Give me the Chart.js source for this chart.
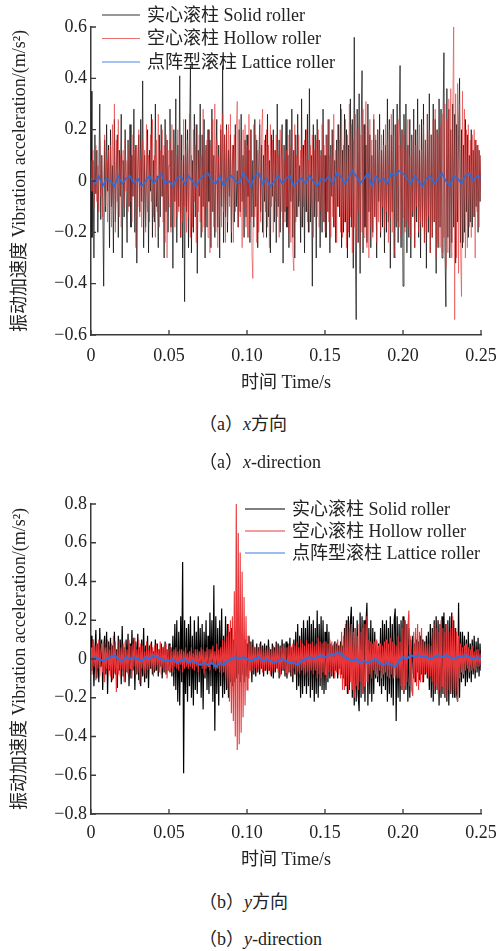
<!DOCTYPE html>
<html><head><meta charset="utf-8">
<script src="https://cdn.jsdelivr.net/npm/chart.js@4.4.1/dist/chart.umd.min.js"></script>
<style>
html,body{margin:0;padding:0;background:#fff;}
body{width:500px;height:951px;position:relative;overflow:hidden;font-family:'Liberation Serif','Noto Sans CJK SC',serif;}
canvas{position:absolute;left:0;}
.cap{position:absolute;left:199px;font-size:18px;color:#222;white-space:nowrap;line-height:20px;}
</style></head><body>
<canvas id="c1" width="500" height="400" style="top:0px"></canvas>
<canvas id="c2" width="500" height="410" style="top:470px"></canvas>
<div class="cap" style="top:414px">（a）<i>x</i>方向</div>
<div class="cap" style="top:452px">（a）<i>x</i>-direction</div>
<div class="cap" style="top:892px">（b）<i>y</i>方向</div>
<div class="cap" style="top:929px">（b）<i>y</i>-direction</div>
<script>
// ---------- DATA ----------
const SERIES_NAMES = ['实心滚柱 Solid roller', '空心滚柱 Hollow roller', '点阵型滚柱 Lattice roller'];
const X_AXIS_TITLE = '时间 Time/s';
const Y_AXIS_TITLE = '振动加速度 Vibration acceleration/(m/s²)';
const X_TICK_LABELS = ['0', '0.05', '0.10', '0.15', '0.20', '0.25'];
const Y1_TICK_LABELS = ['−0.6', '−0.4', '−0.2', '0', '0.2', '0.4', '0.6'];
const Y2_TICK_LABELS = ['−0.8', '−0.6', '−0.4', '−0.2', '0', '0.2', '0.4', '0.6', '0.8'];
const STEP_FINE = 0.000625;  // sampling step of solid / hollow records (s)
const STEP_LATTICE = 0.0025; // sampling step of lattice record (s)

// (a) x-direction
const X_SOLID = [
 0.35,-0.22,0.08,-0.30,0.18,-0.05,0.12,-0.20,0.02,0.30,-0.15,0.10,-0.08,-0.41,0.16,-0.12,0.22,-0.04,0.14,-0.26,
 0.20,-0.10,0.06,-0.28,0.24,-0.16,0.04,0.18,-0.22,0.12,-0.06,0.26,-0.30,0.08,-0.14,0.20,-0.02,-0.24,0.16,-0.10,
 0.22,-0.18,0.10,-0.06,0.28,-0.20,0.14,-0.32,0.06,0.18,-0.12,0.24,-0.08,0.39,-0.26,0.10,-0.18,0.04,0.20,-0.28,
 0.12,-0.04,0.26,-0.22,0.08,-0.16,0.30,-0.10,0.02,-0.26,0.18,-0.14,0.22,-0.06,0.10,-0.30,0.24,-0.12,0.16,-0.20,
 0.06,0.28,-0.18,0.12,-0.34,0.20,-0.08,0.32,-0.24,0.14,-0.10,0.41,-0.22,0.18,-0.30,0.10,-0.47,0.24,-0.12,0.20,
 -0.26,0.16,0.45,-0.28,0.08,-0.20,0.26,-0.14,0.22,-0.36,0.12,-0.06,0.30,-0.22,0.18,-0.10,0.24,-0.30,0.14,-0.18,
 0.20,-0.08,0.16,-0.26,0.28,-0.12,0.10,-0.22,0.06,0.24,-0.18,0.14,-0.30,0.20,-0.10,0.45,-0.24,0.18,-0.14,0.22,
 -0.20,0.12,-0.06,0.18,-0.24,0.08,0.14,-0.16,0.22,-0.10,0.04,-0.18,0.20,-0.12,0.26,-0.08,0.10,-0.22,0.16,-0.14,
 0.18,-0.06,0.12,-0.24,0.20,-0.14,0.08,-0.18,0.24,-0.10,0.16,-0.26,0.06,0.22,-0.12,0.14,-0.20,0.10,-0.08,0.18,
 -0.22,0.26,-0.14,0.08,-0.28,0.18,-0.06,0.20,-0.16,0.12,-0.24,0.30,-0.10,0.16,-0.20,0.06,0.22,-0.32,0.14,-0.12,
 0.24,-0.18,0.10,-0.26,0.20,-0.08,0.28,-0.22,0.12,-0.30,0.18,-0.14,0.26,-0.10,0.06,-0.24,0.32,-0.18,0.14,-0.28,
 0.20,-0.12,0.26,-0.20,0.36,-0.16,0.10,-0.41,0.22,-0.14,0.18,-0.30,0.24,-0.08,0.16,-0.26,0.12,-0.20,0.28,-0.16,
 0.10,-0.22,0.18,-0.12,0.24,-0.28,0.14,-0.06,0.20,-0.18,0.08,-0.24,0.16,-0.10,0.22,-0.14,0.30,-0.26,0.12,-0.20,
 0.26,-0.16,0.20,-0.30,0.14,-0.22,0.32,-0.18,0.24,-0.34,0.56,-0.20,-0.54,0.28,-0.24,0.34,-0.36,0.18,0.43,-0.28,
 0.22,-0.18,0.14,-0.24,0.30,-0.12,0.18,-0.26,0.10,-0.20,0.24,-0.14,0.16,-0.30,0.20,-0.08,0.26,-0.22,0.12,-0.18,
 0.20,-0.28,0.14,-0.20,0.32,-0.16,0.24,-0.34,0.18,-0.12,0.28,-0.30,0.22,-0.18,0.30,-0.24,0.16,0.45,-0.26,0.20,
 -0.41,0.26,-0.18,0.30,-0.28,0.14,-0.22,0.24,-0.30,0.18,-0.14,0.28,-0.26,0.20,-0.16,0.32,-0.22,0.12,-0.30,0.24,
 -0.18,0.30,-0.24,0.16,-0.34,0.26,-0.20,0.34,-0.28,0.18,-0.22,0.30,-0.16,0.24,-0.36,0.20,-0.26,0.32,-0.18,0.28,
 -0.30,0.22,0.50,-0.26,-0.49,0.36,-0.22,0.28,-0.30,0.20,-0.24,0.30,-0.18,0.26,-0.32,0.22,-0.16,0.18,0.40,-0.24,
 0.20,-0.26,0.14,-0.20,0.24,-0.12,0.18,-0.22,0.10,-0.16,0.20,-0.18,0.12,-0.14,0.16,-0.10,0.14,-0.20,0.12,-0.08,
 0.10];
const X_HOLLOW = [
 0.08,-0.04,0.12,-0.10,0.02,0.14,-0.08,0.06,-0.12,0.16,-0.06,0.10,-0.14,0.04,0.18,-0.10,0.08,-0.16,0.12,-0.06,
 0.14,-0.18,0.22,-0.12,0.30,-0.20,0.16,-0.08,0.24,-0.14,0.10,-0.18,0.06,0.12,-0.10,0.16,-0.04,0.08,-0.12,0.14,
 -0.08,0.10,-0.16,0.18,-0.06,0.12,-0.26,0.14,-0.10,0.20,-0.14,0.08,-0.18,0.16,-0.06,0.12,-0.20,0.22,-0.12,0.10,
 -0.16,0.18,-0.08,0.24,-0.14,0.10,-0.22,0.16,-0.12,0.26,-0.18,0.12,-0.06,0.20,-0.16,0.14,-0.24,0.18,-0.30,0.12,
 -0.10,0.16,-0.20,0.22,-0.08,0.14,-0.18,0.10,-0.14,0.20,-0.12,0.18,-0.22,0.08,-0.16,0.24,-0.10,0.12,-0.20,0.16,
 -0.14,0.26,-0.22,0.10,-0.18,0.20,-0.08,0.14,-0.24,0.22,-0.12,0.18,-0.16,0.10,-0.20,0.28,-0.18,0.12,-0.10,0.16,
 -0.22,0.20,-0.28,0.14,-0.12,0.24,-0.18,0.30,-0.20,0.16,-0.26,0.10,-0.14,0.22,-0.18,0.26,-0.12,0.18,-0.24,0.20,
 -0.16,0.22,-0.10,0.26,-0.20,0.14,-0.24,0.18,-0.12,0.20,0.31,-0.18,0.24,-0.14,0.16,-0.26,0.20,-0.10,0.22,-0.18,
 0.14,-0.22,0.26,-0.16,0.20,-0.28,-0.38,0.22,-0.14,0.18,-0.24,0.12,-0.20,0.24,-0.16,0.20,0.28,-0.22,0.16,-0.12,
 0.20,-0.18,0.14,-0.26,0.22,-0.10,0.16,-0.20,0.12,-0.08,0.18,-0.14,0.10,-0.22,0.20,-0.12,0.14,-0.18,0.08,-0.16,
 0.12,-0.10,0.18,-0.20,0.14,-0.24,0.20,-0.28,-0.35,0.22,-0.16,0.10,-0.14,0.18,-0.08,0.12,-0.18,0.14,-0.10,0.16,
 -0.12,0.20,-0.16,0.08,-0.20,0.14,-0.10,0.18,-0.22,0.12,-0.08,0.16,-0.14,0.20,-0.18,0.10,-0.12,0.22,-0.16,0.14,
 -0.20,0.18,-0.12,0.24,-0.16,0.10,-0.22,0.20,-0.14,0.26,-0.18,0.12,-0.24,0.22,-0.10,0.16,-0.20,0.28,-0.22,0.14,
 -0.16,0.24,-0.26,0.18,-0.20,0.30,-0.14,0.22,-0.28,0.16,-0.18,0.26,-0.24,0.20,-0.12,0.22,-0.26,0.18,-0.20,0.28,
 -0.22,0.18,0.31,-0.26,0.20,-0.30,0.24,-0.18,0.16,-0.22,0.26,-0.14,0.18,-0.24,0.20,-0.16,0.12,-0.20,0.18,-0.10,
 0.14,-0.18,0.22,-0.12,0.16,-0.24,0.20,-0.14,0.26,-0.20,0.18,-0.26,-0.30,0.22,-0.16,0.24,-0.18,0.14,-0.22,0.20,
 -0.14,0.18,-0.20,0.12,-0.16,0.24,-0.18,0.10,-0.22,0.16,-0.12,0.20,-0.26,0.14,-0.10,0.18,-0.20,0.22,-0.16,0.12,
 -0.18,0.22,-0.24,0.16,-0.20,0.26,-0.14,0.20,-0.28,0.18,-0.22,0.24,-0.16,0.28,-0.30,0.20,-0.24,0.18,-0.26,0.22,
 -0.28,0.26,-0.22,0.30,-0.34,0.24,-0.28,0.32,-0.26,0.36,-0.30,0.28,0.60,-0.54,0.34,-0.30,0.38,-0.36,0.30,-0.28,
 -0.45,0.35,-0.24,0.28,-0.30,0.20,-0.26,0.22,-0.18,0.16,-0.22,0.18,-0.14,0.20,-0.30,0.16,-0.12,0.14,-0.18,0.10,
 -0.08];
const X_LATTICE = [
 0.01,-0.01,0.02,-0.02,0.01,0.00,-0.02,0.02,-0.01,0.01,
 0.02,-0.01,0.01,-0.02,0.00,0.02,-0.01,0.01,0.03,-0.01,
 0.00,-0.02,0.01,0.02,-0.01,0.02,0.00,-0.02,0.01,0.02,
 0.03,0.00,-0.01,0.02,-0.02,0.01,0.02,0.00,-0.01,0.03,
 0.01,-0.02,0.02,0.03,-0.01,0.01,-0.02,0.00,0.02,-0.01,
 0.01,0.02,-0.02,0.00,0.01,-0.01,0.02,0.00,-0.02,0.01,
 0.00,0.02,-0.01,0.03,0.02,-0.01,0.01,0.04,0.02,-0.01,
 0.01,0.03,-0.02,0.02,0.00,0.01,-0.01,0.03,0.02,0.04,
 0.03,0.01,-0.01,0.02,0.00,-0.02,0.01,0.02,-0.01,0.01,
 0.03,0.00,-0.02,0.02,0.01,-0.01,0.02,0.03,0.00,0.02,
 0.01];

// (b) y-direction
const Y_SOLID = [
 0.12,-0.06,0.10,-0.14,0.04,0.15,-0.10,0.08,-0.12,0.16,-0.04,0.10,-0.16,0.06,0.12,-0.08,0.14,-0.18,0.09,-0.06,
 0.11,-0.12,0.07,-0.10,0.14,-0.08,0.05,-0.15,0.12,-0.06,0.10,-0.13,0.17,-0.09,0.06,-0.12,0.10,-0.07,0.13,-0.14,
 0.08,-0.10,0.15,-0.06,0.11,-0.16,0.09,-0.08,0.13,-0.11,0.06,-0.14,0.10,-0.09,0.16,-0.12,0.07,-0.10,0.12,-0.15,
 0.07,-0.05,0.09,-0.08,0.04,-0.07,0.10,-0.06,0.08,-0.09,0.05,-0.04,0.08,-0.10,0.06,-0.07,0.09,-0.08,0.05,-0.06,
 0.08,-0.07,0.06,-0.09,0.12,-0.14,0.18,-0.16,0.20,-0.22,0.14,-0.24,0.22,-0.12,0.50,-0.59,0.20,-0.18,0.16,-0.22,
 0.18,-0.14,0.22,-0.20,0.12,-0.24,0.20,-0.16,0.14,-0.18,0.22,-0.12,0.16,-0.20,0.18,-0.26,0.14,-0.10,0.20,-0.16,
 0.12,-0.18,0.24,-0.14,0.20,-0.22,0.38,-0.37,0.22,-0.18,0.16,-0.24,0.20,-0.14,0.26,-0.20,0.12,-0.18,0.22,-0.16,
 0.18,-0.20,0.14,-0.12,0.16,-0.14,0.10,-0.12,0.14,-0.10,0.12,-0.08,0.11,-0.12,0.10,-0.08,0.09,-0.12,0.10,-0.09,
 0.08,-0.10,0.12,-0.06,0.09,-0.12,0.10,-0.08,0.06,-0.09,0.08,-0.07,0.06,-0.08,0.09,-0.05,0.07,-0.09,0.08,-0.06,
 0.07,-0.08,0.10,-0.06,0.05,-0.09,0.08,-0.10,0.06,-0.07,0.09,-0.05,0.08,-0.10,0.07,-0.08,0.10,-0.06,0.08,-0.09,
 0.09,-0.10,0.08,-0.07,0.11,-0.09,0.06,-0.12,0.10,-0.08,0.14,-0.16,0.18,-0.14,0.12,-0.20,0.16,-0.18,0.20,-0.14,
 0.16,-0.18,0.20,-0.14,0.22,-0.20,0.18,-0.16,0.20,-0.22,0.16,-0.18,0.25,-0.20,0.18,-0.14,0.22,-0.16,0.20,-0.18,
 0.14,-0.16,0.18,-0.12,0.14,-0.10,0.08,-0.09,0.07,-0.10,0.09,-0.06,0.08,-0.10,0.07,-0.05,0.09,-0.08,0.07,-0.10,
 0.16,-0.14,0.20,-0.18,0.22,-0.16,0.18,0.27,-0.20,0.22,-0.24,0.16,-0.22,0.20,-0.18,-0.27,0.24,-0.20,0.22,-0.18,
 0.20,-0.22,0.18,0.29,-0.24,0.16,-0.18,0.20,-0.22,0.16,-0.18,0.14,-0.10,0.09,-0.12,0.08,-0.14,0.16,-0.18,0.20,
 -0.14,0.18,-0.16,0.20,-0.22,0.16,-0.18,0.22,-0.20,0.18,-0.24,0.20,0.26,-0.32,0.22,-0.20,0.18,-0.22,0.20,-0.16,
 0.22,-0.18,0.20,-0.16,0.18,-0.22,0.16,-0.20,0.10,-0.08,0.12,-0.10,0.08,-0.12,0.10,-0.07,0.09,-0.11,0.12,-0.08,
 0.10,-0.12,0.09,-0.08,0.12,-0.10,0.14,-0.16,0.18,-0.20,0.16,-0.22,0.20,-0.18,0.22,-0.16,0.20,-0.24,0.18,-0.20,
 0.22,-0.18,0.24,-0.20,0.18,-0.22,0.20,-0.24,0.22,-0.18,0.24,-0.20,0.20,-0.20,0.16,-0.18,-0.22,0.29,-0.20,0.14,
 -0.12,0.14,-0.10,0.12,-0.14,0.10,-0.12,0.14,-0.10,0.08,-0.12,0.10,-0.08,0.12,-0.10,0.09,-0.07,0.11,-0.09,0.08,
 -0.06];
const Y_HOLLOW = [
 0.06,-0.08,0.10,-0.04,0.07,-0.11,0.08,-0.05,0.10,-0.09,0.04,0.08,-0.07,0.09,-0.12,0.06,-0.05,0.10,-0.08,0.05,
 -0.09,0.08,-0.11,0.12,-0.07,0.09,-0.17,0.05,-0.08,0.10,-0.09,0.06,-0.05,0.08,-0.12,0.09,-0.06,0.05,-0.08,0.10,
 -0.05,0.07,-0.10,0.08,-0.04,0.11,-0.08,0.05,-0.07,0.10,-0.13,0.08,-0.05,0.07,-0.08,0.04,-0.10,0.09,-0.06,0.05,
 -0.06,0.08,-0.05,0.06,-0.09,0.07,-0.06,0.08,-0.04,0.05,-0.07,0.09,-0.08,0.06,-0.05,0.07,-0.06,0.08,-0.10,0.05,
 -0.06,0.07,-0.05,0.04,-0.07,0.05,-0.04,0.06,-0.05,0.04,-0.06,0.05,-0.03,0.05,-0.07,0.04,-0.05,0.06,-0.04,0.03,
 -0.05,0.04,-0.04,0.06,-0.05,0.03,-0.06,0.05,-0.04,0.05,-0.07,0.04,-0.03,0.06,-0.05,0.05,-0.08,0.04,-0.05,0.06,
 -0.04,0.05,-0.06,0.05,-0.03,0.07,-0.05,0.04,-0.06,0.08,-0.05,0.05,-0.07,0.06,-0.08,0.10,-0.07,0.09,-0.10,0.12,
 -0.15,0.18,-0.22,0.20,-0.28,0.22,-0.32,0.35,-0.40,0.80,-0.47,0.65,-0.44,0.55,-0.38,0.45,-0.30,0.32,-0.24,0.22,
 -0.16,0.12,-0.10,0.08,-0.07,0.06,-0.06,0.07,-0.05,0.06,-0.07,0.06,-0.05,0.08,-0.05,0.06,-0.07,0.05,-0.06,0.05,
 -0.05,0.07,-0.06,0.06,-0.08,0.05,-0.06,0.07,-0.06,0.05,-0.05,0.08,-0.07,0.06,-0.09,0.06,-0.05,0.07,-0.05,0.06,
 -0.07,0.06,-0.08,0.07,-0.06,0.07,-0.09,0.08,-0.05,0.07,-0.08,0.09,-0.07,0.06,-0.08,0.10,-0.06,0.08,-0.09,0.07,
 -0.08,0.10,-0.07,0.08,-0.10,0.08,-0.06,0.09,-0.08,0.07,-0.06,0.08,-0.10,0.11,-0.08,0.09,-0.10,0.08,-0.07,0.09,
 -0.08,0.09,-0.10,0.08,-0.07,0.10,-0.08,0.09,-0.07,0.08,-0.10,0.09,-0.07,0.10,-0.08,0.07,-0.10,0.14,-0.16,0.12,
 -0.16,0.18,-0.14,0.20,-0.18,0.16,-0.12,0.18,-0.16,0.14,-0.20,0.16,-0.14,0.12,-0.16,0.18,-0.12,0.14,-0.18,0.16,
 -0.14,0.18,-0.12,0.22,-0.12,0.10,-0.08,0.09,-0.10,0.08,-0.06,0.09,-0.08,0.10,-0.09,0.07,-0.06,0.08,-0.10,0.07,
 -0.08,0.09,-0.07,0.10,-0.09,0.08,-0.10,0.11,-0.08,0.09,-0.10,0.08,-0.09,0.07,-0.10,0.12,-0.10,0.09,-0.14,0.16,
 -0.16,0.20,-0.14,0.18,-0.12,0.16,0.25,-0.14,0.12,-0.16,-0.19,0.14,-0.12,0.16,-0.14,0.18,-0.16,0.14,-0.12,0.16,
 -0.12,0.10,-0.08,0.09,-0.07,0.08,-0.10,0.08,-0.09,0.07,-0.12,0.14,-0.16,0.18,-0.14,0.16,-0.18,0.14,-0.16,0.20,
 -0.14,0.16,-0.18,0.14,-0.20,0.18,-0.16,0.14,-0.18,0.16,-0.16,0.22,-0.18,0.16,-0.20,0.14,-0.22,0.12,-0.10,0.08,
 -0.07,0.06,-0.08,0.07,-0.06,0.08,-0.05,0.06,-0.07,0.05,-0.06,0.07,-0.05,0.04,-0.06,0.05,-0.04,0.05,-0.04,0.03,
 -0.03];
const Y_LATTICE = [
 0.00,0.01,0.00,-0.01,0.00,0.01,0.02,0.00,-0.01,0.01,
 0.00,0.01,0.00,-0.01,0.01,0.00,0.02,0.01,0.00,-0.01,
 -0.01,0.00,-0.02,-0.01,0.00,-0.02,-0.01,-0.02,-0.03,-0.02,
 -0.03,-0.02,-0.04,-0.02,-0.03,-0.01,0.00,0.01,0.00,0.01,
 0.00,-0.01,0.00,0.01,-0.01,0.00,-0.01,-0.02,-0.01,0.00,
 -0.01,-0.02,-0.02,-0.03,-0.01,0.00,0.01,0.00,0.01,0.02,
 0.01,0.02,0.02,0.03,0.03,0.01,0.00,-0.01,0.00,-0.02,
 -0.01,-0.02,-0.01,0.00,-0.02,-0.03,-0.02,-0.03,-0.04,-0.01,
 0.01,0.00,0.02,0.01,0.02,0.01,0.01,0.00,0.01,0.02,
 0.01,0.02,0.01,0.00,0.01,0.01,0.02,0.01,0.00,0.01,
 0.00];

// ---------- RENDER ----------
const FONT_FAMILY = "'Liberation Serif', 'Times New Roman', 'Noto Sans CJK SC', serif";
Chart.defaults.font.family = FONT_FAMILY;
const toXY = (vals, step) => vals.map((v, i) => ({ x: i * step, y: v }));

const legendPlugin = {
  id: 'insetLegend',
  afterDraw(chart, args, o) {
    const ctx = chart.ctx;
    ctx.save();
    ctx.font = o.fontSize + 'px ' + FONT_FAMILY;
    ctx.textBaseline = 'middle';
    ctx.textAlign = 'left';
    chart.data.datasets.forEach((ds, i) => {
      const y = o.y + i * o.rowH;
      ctx.strokeStyle = ds.legendColor;
      ctx.lineWidth = 1.2;
      ctx.beginPath(); ctx.moveTo(o.x, y); ctx.lineTo(o.x + o.lineLen, y); ctx.stroke();
      ctx.fillStyle = '#222';
      ctx.fillText(ds.label, o.x + o.lineLen + o.gap, y + 1);
    });
    ctx.restore();
  }
};
const inwardTicks = {
  id: 'inwardTicks',
  afterDraw(chart, args, o) {
    const { ctx, scales: { x, y }, chartArea: a } = chart;
    ctx.save();
    ctx.strokeStyle = o.color; ctx.lineWidth = 1.3;
    ctx.beginPath();
    x.ticks.forEach(t => { const p = x.getPixelForValue(t.value); ctx.moveTo(p, a.bottom); ctx.lineTo(p, a.bottom - o.len); });
    y.ticks.forEach(t => { const p = y.getPixelForValue(t.value); ctx.moveTo(a.left, p); ctx.lineTo(a.left + o.len, p); });
    ctx.stroke();
    ctx.restore();
  }
};

function makeChart(id, cfg) {
  const font = { family: FONT_FAMILY, size: 18 };
  return new Chart(document.getElementById(id), {
    type: 'line',
    data: {
      datasets: [
        { label: SERIES_NAMES[0], data: toXY(cfg.solid, STEP_FINE), borderColor: cfg.colors[0], legendColor: cfg.legendColors[0], borderWidth: cfg.widths[0], order: 2 },
        { label: SERIES_NAMES[1], data: toXY(cfg.hollow, STEP_FINE), borderColor: cfg.colors[1], legendColor: cfg.legendColors[1], borderWidth: cfg.widths[1], order: 1 },
        { label: SERIES_NAMES[2], data: toXY(cfg.lattice, STEP_LATTICE), borderColor: cfg.colors[2], legendColor: cfg.legendColors[2], borderWidth: cfg.widths[2], order: 0 }
      ]
    },
    options: {
      responsive: false,
      animation: false,
      devicePixelRatio: 1,
      layout: { padding: { top: cfg.padTop, right: 19, bottom: 0, left: 0 } },
      elements: { point: { radius: 0, hoverRadius: 0 }, line: { tension: 0, borderJoinStyle: 'miter' } },
      plugins: {
        legend: { display: false },
        tooltip: { enabled: false },
        insetLegend: cfg.legend,
        inwardTicks: { color: '#3a3a3a', len: 5 }
      },
      scales: {
        x: {
          type: 'linear', min: 0, max: 0.25,
          grid: { display: false, drawTicks: false },
          border: { display: true, color: '#3a3a3a', width: 1.5 },
          ticks: { stepSize: 0.05, autoSkip: false, maxRotation: 0, color: '#222', font, padding: cfg.xTickPad,
                   callback: (v, i) => X_TICK_LABELS[i] },
          title: { display: true, text: X_AXIS_TITLE, color: '#222', font, padding: { top: 0, bottom: cfg.xTitlePad } },
          afterFit(s) { s.height = cfg.xHeight; s.paddingLeft = 0; s.paddingRight = 0; s.paddingTop = 0; s.paddingBottom = 0; }
        },
        y: {
          type: 'linear', min: cfg.yMin, max: cfg.yMax,
          grid: { display: false, drawTicks: false },
          border: { display: true, color: '#3a3a3a', width: 1.5 },
          ticks: { stepSize: 0.2, autoSkip: false, color: '#222', font, padding: 4,
                   callback: (v, i) => cfg.yLabels[i] },
          title: { display: true, text: Y_AXIS_TITLE, color: '#222', font, padding: { top: 9, bottom: 0 } },
          afterFit(s) { s.width = 91; s.paddingLeft = 0; s.paddingRight = 0; s.paddingTop = 0; s.paddingBottom = 0; }
        }
      }
    },
    plugins: [legendPlugin, inwardTicks]
  });
}

makeChart('c1', {
  solid: X_SOLID, hollow: X_HOLLOW, lattice: X_LATTICE,
  colors: ['rgba(0,0,0,0.75)', 'rgba(226,45,45,0.6)', '#2f6bd6'],
  legendColors: ['#333', '#e87070', '#4a86e8'],
  widths: [0.9, 0.9, 1.6],
  padTop: 27, xHeight: 65, xTickPad: 10, xTitlePad: 6,
  yMin: -0.6, yMax: 0.6, yLabels: Y1_TICK_LABELS,
  legend: { x: 102, y: 15, rowH: 23.5, lineLen: 38, gap: 7, fontSize: 18 }
});
makeChart('c2', {
  solid: Y_SOLID, hollow: Y_HOLLOW, lattice: Y_LATTICE,
  colors: ['#000000', '#e8373a', '#2d6fde'],
  legendColors: ['#000', '#e83a3a', '#3b7be0'],
  widths: [1.2, 1.1, 2],
  padTop: 34, xHeight: 66, xTickPad: 8, xTitlePad: 9,
  yMin: -0.8, yMax: 0.8, yLabels: Y2_TICK_LABELS,
  legend: { x: 245, y: 39, rowH: 22, lineLen: 40, gap: 7, fontSize: 18 }
});
</script>
</body></html>
